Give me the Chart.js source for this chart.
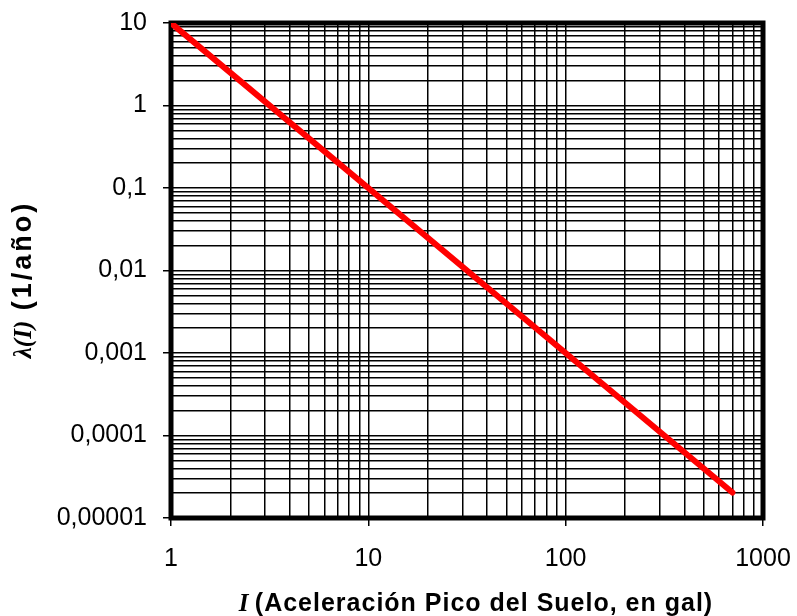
<!DOCTYPE html>
<html>
<head>
<meta charset="utf-8">
<script src="https://cdn.jsdelivr.net/npm/chart.js@4.4.1/dist/chart.umd.min.js"></script>
<style>
  html, body { margin: 0; padding: 0; background: #fff; }
  #wrap { width: 797px; height: 616px; position: relative; }
</style>
</head>
<body>
<div id="wrap"><canvas id="curva"></canvas></div>
<script>
// Curva de tasa de excedencia lambda(I) vs aceleracion pico del suelo
const aceleracion = [1, 700];          // I, en gal
const tasaExcedencia = [10, 0.0000204]; // lambda(I), 1/año

const ticksX = [1, 10, 100, 1000];
const etiquetasX = ['1', '10', '100', '1000'];
const ticksY = [0.00001, 0.0001, 0.001, 0.01, 0.1, 1, 10];
const etiquetasY = ['0,00001', '0,0001', '0,001', '0,01', '0,1', '1', '10'];

const FUENTE = '"Liberation Sans", Arial, sans-serif';
const SERIF = '"Liberation Serif", "Times New Roman", serif';

// lineas de la grilla logaritmica: 1..9 en cada decada
function grillaLog(decadas) {
  const v = [];
  for (let i = 0; i < decadas.length - 1; i++) {
    for (let k = 1; k <= 9; k++) v.push(k * decadas[i]);
  }
  v.push(decadas[decadas.length - 1]);
  return v;
}

function esMayor(v) {
  const l = Math.log10(v);
  return Math.abs(l - Math.round(l)) < 1e-9;
}

function etiqueta(v, ticks, etiquetas) {
  for (let i = 0; i < ticks.length; i++) {
    if (Math.abs(Math.log10(v) - Math.log10(ticks[i])) < 1e-9) return etiquetas[i];
  }
  return '';
}

// marco grueso alrededor del area de trazado
const marco = {
  id: 'marco',
  beforeDatasetsDraw(chart) {
    const a = chart.chartArea, ctx = chart.ctx;
    ctx.save();
    ctx.strokeStyle = '#000';
    ctx.lineWidth = 5;
    ctx.strokeRect(a.left, a.top, a.right - a.left, a.bottom - a.top);
    ctx.restore();
  }
};

// ancho de un trozo de texto con espaciado extra entre letras
function anchoTrozo(ctx, p) {
  ctx.font = p.font;
  let w = 0;
  for (const c of p.txt) w += ctx.measureText(c).width + (p.esp || 0);
  return w;
}

// titulos de ejes con partes en cursiva (serif) y partes en negrita
function dibujarPartes(ctx, partes) {
  let ancho = 0;
  partes.forEach(p => { ancho += anchoTrozo(ctx, p); });
  let x = -ancho / 2;
  partes.forEach(p => {
    ctx.font = p.font;
    for (const c of p.txt) {
      ctx.fillText(c, x, 0);
      x += ctx.measureText(c).width + (p.esp || 0);
    }
  });
}

const titulos = {
  id: 'titulos',
  afterDraw(chart) {
    const ctx = chart.ctx, a = chart.chartArea;
    ctx.save();
    ctx.fillStyle = '#000';
    ctx.textBaseline = 'alphabetic';
    ctx.textAlign = 'left';

    ctx.save();
    ctx.translate((a.left + a.right) / 2 + 9, 611);
    dibujarPartes(ctx, [
      { txt: 'I ', font: 'italic bold 25px ' + SERIF },
      { txt: '(Aceleración Pico del Suelo, en gal)', font: 'bold 25px ' + FUENTE, esp: 1 }
    ]);
    ctx.restore();

    ctx.save();
    ctx.translate(31, (a.top + a.bottom) / 2 + 9);
    ctx.rotate(-Math.PI / 2);
    dibujarPartes(ctx, [
      { txt: 'λ(I)', font: 'italic bold 25px ' + SERIF },
      { txt: ' (1/año)', font: 'bold 27px ' + FUENTE, esp: 3 }
    ]);
    ctx.restore();

    ctx.restore();
  }
};

const colorTick = (ctx) => (ctx.tick && esMayor(ctx.tick.value)) ? '#000' : 'rgba(0,0,0,0)';

new Chart(document.getElementById('curva'), {
  type: 'line',
  data: {
    datasets: [{
      data: aceleracion.map((x, i) => ({ x: x, y: tasaExcedencia[i] })),
      borderColor: '#ff0000',
      borderWidth: 6,
      borderCapStyle: 'round',
      pointRadius: 0,
      fill: false,
      tension: 0
    }]
  },
  options: {
    responsive: true,
    maintainAspectRatio: false,
    animation: false,
    layout: { padding: { top: 23, right: 34, bottom: 0, left: 0 } },
    plugins: { legend: { display: false }, tooltip: { enabled: false } },
    scales: {
      x: {
        type: 'logarithmic',
        min: 1,
        max: 1000,
        afterBuildTicks: (s) => { s.ticks = grillaLog(ticksX).map(v => ({ value: v })); },
        afterFit: (s) => { s.height = 98; s.paddingLeft = 0; s.paddingRight = 0; },
        grid: { color: '#000', lineWidth: 1.5, tickLength: 8, tickColor: colorTick },
        border: { display: false },
        ticks: {
          autoSkip: false,
          maxRotation: 0,
          padding: 18,
          color: '#000',
          font: { family: FUENTE, size: 25 },
          callback: (v) => etiqueta(v, ticksX, etiquetasX)
        }
      },
      y: {
        type: 'logarithmic',
        min: 0.00001,
        max: 10,
        afterBuildTicks: (s) => { s.ticks = grillaLog(ticksY).map(v => ({ value: v })); },
        afterFit: (s) => { s.width = 171; s.paddingTop = 0; s.paddingBottom = 0; },
        grid: { color: '#000', lineWidth: 1.5, tickLength: 8, tickColor: colorTick },
        border: { display: false },
        ticks: {
          autoSkip: false,
          padding: 16,
          color: '#000',
          font: { family: FUENTE, size: 25 },
          callback: (v) => etiqueta(v, ticksY, etiquetasY)
        }
      }
    }
  },
  plugins: [marco, titulos]
});
</script>
</body>
</html>
